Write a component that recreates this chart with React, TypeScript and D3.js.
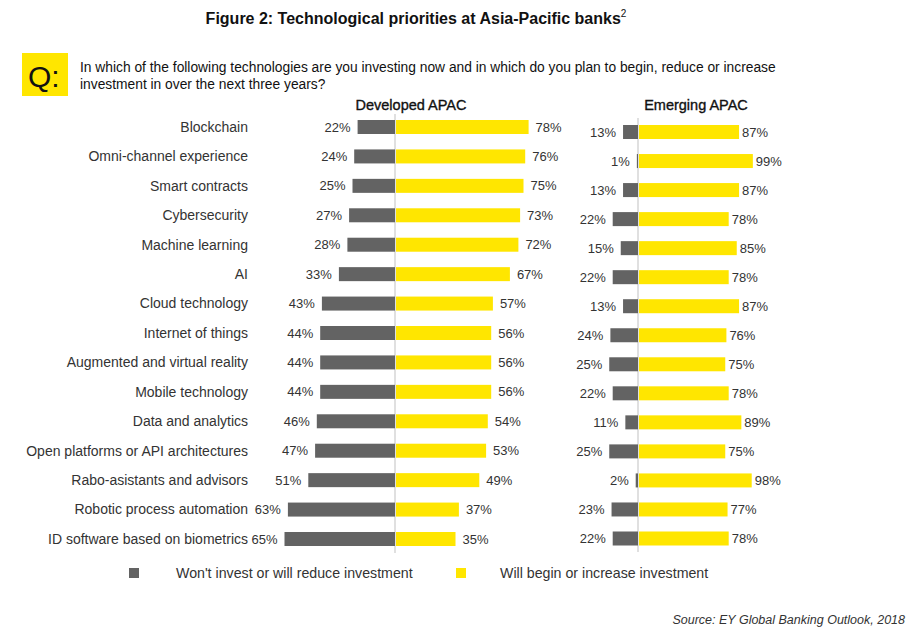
import React from "react";
import * as d3 from "d3";

const categories = [
  "Blockchain",
  "Omni-channel experience",
  "Smart contracts",
  "Cybersecurity",
  "Machine learning",
  "AI",
  "Cloud technology",
  "Internet of things",
  "Augmented and virtual reality",
  "Mobile technology",
  "Data and analytics",
  "Open platforms or API architectures",
  "Rabo-asistants and advisors",
  "Robotic process automation",
  "ID software based on biometrics",
];
const developedWont = [22, 24, 25, 27, 28, 33, 43, 44, 44, 44, 46, 47, 51, 63, 65];
const developedWill = [78, 76, 75, 73, 72, 67, 57, 56, 56, 56, 54, 53, 49, 37, 35];
const emergingWont = [13, 1, 13, 22, 15, 22, 13, 24, 25, 22, 11, 25, 2, 23, 22];
const emergingWill = [87, 99, 87, 78, 85, 78, 87, 76, 75, 78, 89, 75, 98, 77, 78];
const seriesNames = ["Won't invest or will reduce investment", "Will begin or increase investment"];

const GRAY = "#636363";
const YELLOW = "#FFE600";
const TXT = "#333333";
const FONT = "'Liberation Sans', Arial, sans-serif";

export default function App() {
  const W = 915, H = 637;
  const barH = 14;
  const yDev = d3.scalePoint<string>().domain(categories).range([127, 539]);
  const yEm = d3.scalePoint<string>().domain(categories).range([132, 538.5]);
  const devCenter = 395;
  const emCenter = 638;
  const xDev = d3.scaleLinear().domain([0, 100]).range([0, 170]);
  const xEm = d3.scaleLinear().domain([0, 100]).range([0, 115]);

  const panel = (
    y: d3.ScalePoint<string>,
    x: d3.ScaleLinear<number, number>,
    cx: number,
    wont: number[],
    will: number[],
    gapL: number,
    gapR: number,
    key: string
  ) => (
    <g key={key}>
      {categories.map((c, i) => {
        const yc = y(c)!;
        const wl = x(wont[i]);
        const wr = x(will[i]);
        return (
          <g key={c}>
            <rect x={cx - wl} y={yc - barH / 2} width={wl} height={barH} fill={GRAY} />
            <rect x={cx + 1} y={yc - barH / 2} width={wr} height={barH} fill={YELLOW} />
            <text x={cx - wl - gapL} y={yc} dy="0.35em" textAnchor="end" fontSize={13} fill={TXT}>
              {wont[i]}%
            </text>
            <text x={cx + 1 + wr + gapR} y={yc} dy="0.35em" textAnchor="start" fontSize={13} fill={TXT}>
              {will[i]}%
            </text>
          </g>
        );
      })}
    </g>
  );

  return (
    <svg
      width={W}
      height={H}
      style={{ position: "absolute", left: 0, top: 0, background: "#fff" }}
      fontFamily={FONT}
    >
      <rect width={W} height={H} fill="#fff" />
      <text x={416} y={24} textAnchor="middle" fontSize={16} fontWeight="bold" fill="#111">
        Figure 2: Technological priorities at Asia-Pacific banks
        <tspan fontSize={10} dy={-7} fontWeight="normal">2</tspan>
      </text>

      <rect x={22} y={53} width={46} height={43} fill={YELLOW} />
      <text x={28} y={87} fontSize={30} fill="#111">Q:</text>
      <text x={80} y={72} fontSize={13.8} fill="#111">
        In which of the following technologies are you investing now and in which do you plan to begin, reduce or increase
      </text>
      <text x={80} y={89} fontSize={13.8} fill="#111">
        investment in over the next three years?
      </text>

      <text x={411} y={110} textAnchor="middle" fontSize={14.5} fill="#111" stroke="#111" strokeWidth={0.35}>Developed APAC</text>
      <text x={696} y={110} textAnchor="middle" fontSize={14.5} fill="#111" stroke="#111" strokeWidth={0.35}>Emerging APAC</text>

      <line x1={devCenter} x2={devCenter} y1={114} y2={553} stroke="#cccccc" strokeWidth={1.2} />
      <line x1={emCenter} x2={emCenter} y1={118} y2={552} stroke="#cccccc" strokeWidth={1.2} />

      {categories.map((c) => (
        <text key={c} x={248} y={yDev(c)!} dy="0.35em" textAnchor="end" fontSize={14} fill={TXT}>
          {c}
        </text>
      ))}

      {panel(yDev, xDev, devCenter, developedWont, developedWill, 7, 7, "dev")}
      {panel(yEm, xEm, emCenter, emergingWont, emergingWill, 7, 3, "em")}

      <rect x={129} y={568} width={10} height={10} fill={GRAY} />
      <text x={176} y={578} fontSize={14.2} fill={TXT}>{seriesNames[0]}</text>
      <rect x={456} y={568} width={10} height={10} fill={YELLOW} />
      <text x={500} y={578} fontSize={14.2} fill={TXT}>{seriesNames[1]}</text>

      <text x={905} y={624} textAnchor="end" fontSize={12.5} fontStyle="italic" fill={TXT}>
        Source: EY Global Banking Outlook, 2018
      </text>
    </svg>
  );
}
